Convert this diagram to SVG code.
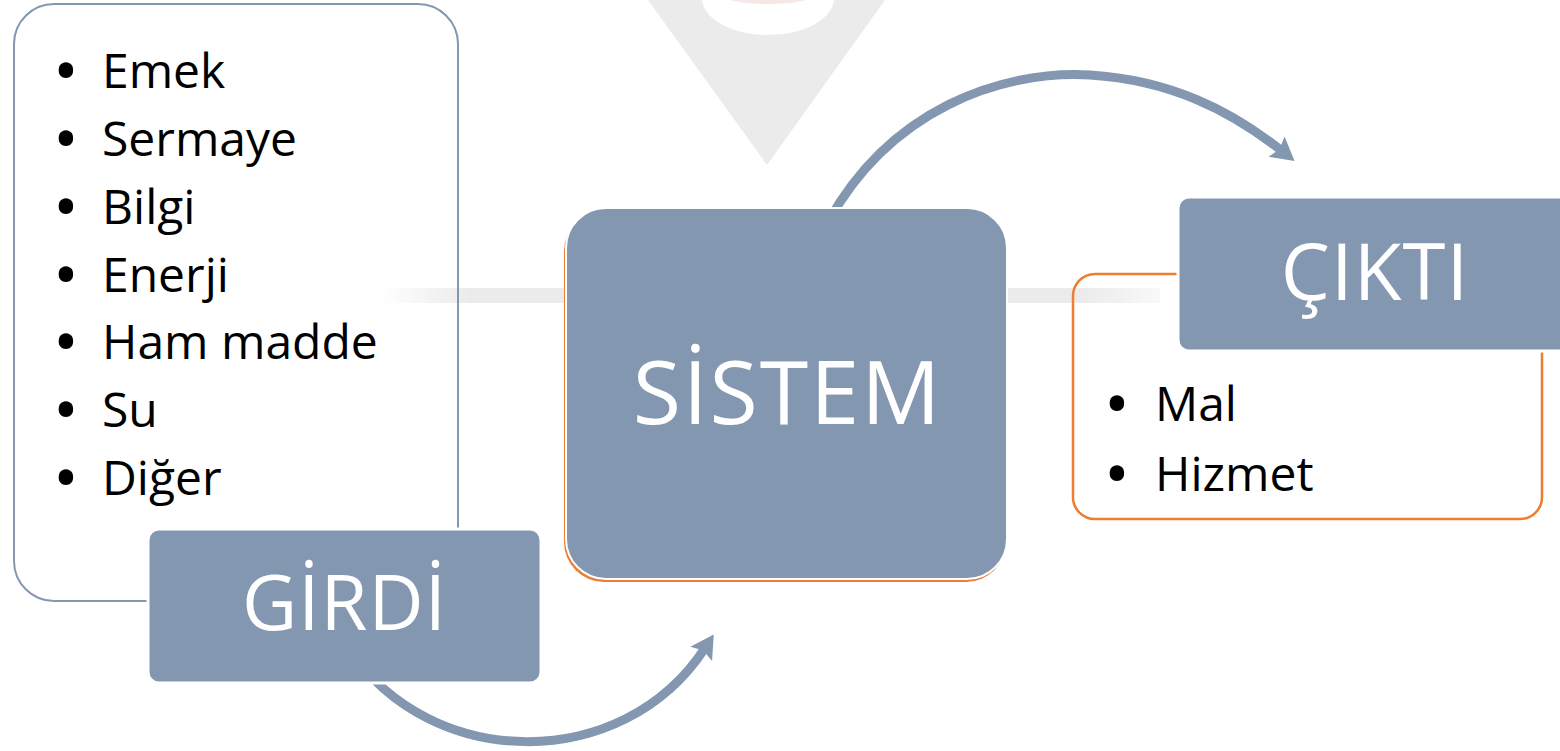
<svg xmlns="http://www.w3.org/2000/svg" width="1560" height="751" viewBox="0 0 1560 751">
  <style>
    .lbl { fill: #8497B0; stroke: #ffffff; stroke-width: 3; }
    .ttl { font-family: "Open Sans", "DejaVu Sans", sans-serif; fill: #ffffff; text-anchor: middle; }
    .itm { font-family: "Open Sans", "DejaVu Sans", sans-serif; font-size: 48px; fill: #000000; }
    .bul { font-family: "Open Sans", "DejaVu Sans", sans-serif; font-size: 50px; fill: #000000; stroke: #000000; stroke-width: 4; stroke-linejoin: round; text-anchor: middle; }
    .arc { fill: none; stroke: #8497B0; stroke-width: 9; marker-end: url(#ah); }
  </style>
  <defs>
    <marker id="ah" markerUnits="userSpaceOnUse" markerWidth="24" markerHeight="28" viewBox="0 -14 24 28" refX="7" refY="0" orient="auto">
      <path d="M0,-13 L23,0 L0,13 L4,0 Z" fill="#8497B0" stroke="none"/>
    </marker>
    <linearGradient id="barg" x1="0" y1="0" x2="1" y2="0">
      <stop offset="0" stop-color="#ebebeb" stop-opacity="0"/>
      <stop offset="0.12" stop-color="#ebebeb" stop-opacity="1"/>
      <stop offset="0.9" stop-color="#ebebeb" stop-opacity="1"/>
      <stop offset="1" stop-color="#ebebeb" stop-opacity="0.3"/>
    </linearGradient>
  </defs>
  <rect x="0" y="0" width="1560" height="751" fill="#ffffff"/>
  <g id="background">
    <polygon points="648,0 885,0 767,165" fill="#ebebeb"/>
    <ellipse cx="768" cy="-2" rx="66" ry="37" fill="#ffffff"/>
    <ellipse cx="768" cy="-6" rx="48" ry="10" fill="#f7e6e6"/>
    <rect x="378" y="288" width="782" height="15" fill="url(#barg)"/>
  </g>
  <g id="connectors">
    <path class="arc" d="M 828 222 C 890 110, 1000 70, 1090 75 C 1170 80, 1230 110, 1282 151"/>
    <path class="arc" d="M 350 650 C 430 770, 622 775, 705 648"/>
  </g>
  <g id="girdi">
    <rect x="14" y="4" width="444" height="597" rx="40" fill="none" stroke="#8497B0" stroke-width="2"/>
    <text class="bul" x="66" y="88">•</text><text class="itm" x="102" y="88">Emek</text>
    <text class="bul" x="66" y="156">•</text><text class="itm" x="102" y="156">Sermaye</text>
    <text class="bul" x="66" y="224">•</text><text class="itm" x="102" y="224">Bilgi</text>
    <text class="bul" x="66" y="292">•</text><text class="itm" x="102" y="292">Enerji</text>
    <text class="bul" x="66" y="359">•</text><text class="itm" x="102" y="359">Ham madde</text>
    <text class="bul" x="66" y="427">•</text><text class="itm" x="102" y="427">Su</text>
    <text class="bul" x="66" y="495">•</text><text class="itm" x="102" y="495">Diğer</text>
    <rect class="lbl" x="148" y="529" width="393" height="154" rx="11"/>
    <text class="ttl" x="344.5" y="630" font-size="76" letter-spacing="1">GİRDİ</text>
  </g>
  <g id="sistem">
    <rect x="564" y="211" width="442" height="371" rx="40" fill="#ED7D31"/>
    <rect x="566" y="208" width="441" height="371" rx="40" fill="#8497B0" stroke="#ffffff" stroke-width="2"/>
    <text class="ttl" x="787.5" y="424" font-size="88" letter-spacing="2">SİSTEM</text>
  </g>
  <g id="cikti">
    <rect x="1073" y="274" width="469" height="245" rx="22" fill="none" stroke="#ED7D31" stroke-width="2.5"/>
    <text class="bul" x="1117" y="421">•</text><text class="itm" x="1155" y="421">Mal</text>
    <text class="bul" x="1117" y="491">•</text><text class="itm" x="1155" y="491">Hizmet</text>
    <rect class="lbl" x="1178" y="197" width="396" height="154" rx="11"/>
    <text class="ttl" x="1375" y="300" font-size="78" letter-spacing="1">ÇIKTI</text>
  </g>
</svg>
